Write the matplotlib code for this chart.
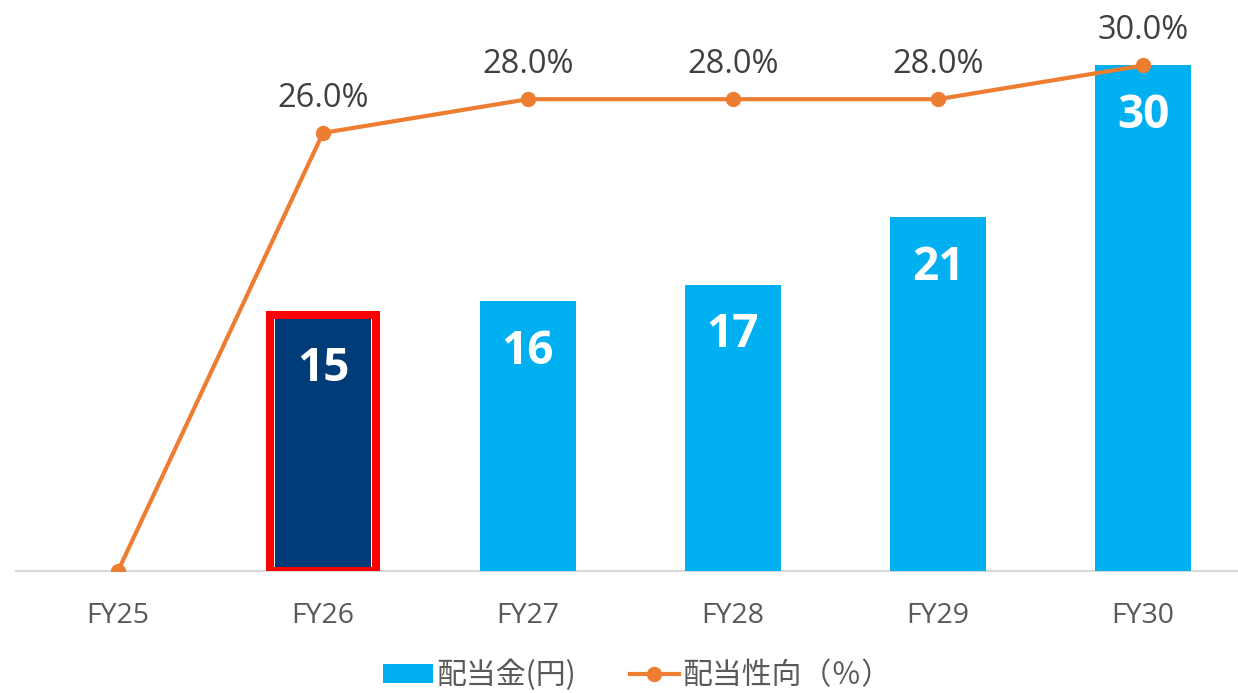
import matplotlib
matplotlib.use("Agg")
import matplotlib.pyplot as plt
from matplotlib.lines import Line2D
from matplotlib.patches import Patch

plt.rcParams['font.family'] = ['Open Sans', 'Noto Sans CJK JP', 'DejaVu Sans']

# data
years = ['FY25', 'FY26', 'FY27', 'FY28', 'FY29', 'FY30']
dividend = [0, 15, 16, 17, 21, 30]
payout = [0, 26.0, 28.0, 28.0, 28.0, 30.0]
highlight = 'FY26'

light_blue = '#00B0F0'
navy = '#003C78'
orange = '#ED7D31'

fig = plt.figure(figsize=(12.38, 6.93), dpi=100)
ax = fig.add_axes([15.5 / 1238, 122 / 693, 1230 / 1238, 571 / 693])
ax2 = ax.twinx()

x = list(range(len(years)))
ymax = 571 / 16.85

for i, (yr, v) in enumerate(zip(years, dividend)):
    if v == 0:
        continue
    col = navy if yr == highlight else light_blue
    ax.bar(i, v, width=0.465, color=col, zorder=2)
    if yr == highlight:
        ax.bar(i, v + 0.2, width=0.515, facecolor='none', edgecolor='#FF0000',
               linewidth=5.8, zorder=3)
    ax.annotate(str(v), (i, v), xytext=(0, -36), textcoords='offset points',
                ha='center', va='center', color='white', fontsize=33,
                fontweight='bold', zorder=4)

ax2.plot(x, payout, color=orange, linewidth=3, marker='o', markersize=10,
         zorder=5)
for i, p in enumerate(payout):
    if p == 0:
        continue
    ax2.annotate(f'{p:.1f}%', (i, p), xytext=(0, 25), textcoords='offset points',
                 ha='center', va='center', color='#404040', fontsize=23.5)

for a in (ax, ax2):
    a.set_ylim(0, ymax)
    a.set_xlim(-0.5, 5.5)
    for s in a.spines.values():
        s.set_visible(False)
    a.set_yticks([])
ax.axhline(0, color='#D9D9D9', linewidth=1.5, zorder=1, clip_on=False)
ax.set_xticks(x)
ax.set_xticklabels(years, fontsize=20.5, color='#595959')
ax.tick_params(axis='x', length=0, pad=22)
ax2.set_zorder(ax.get_zorder() + 1)
ax2.patch.set_visible(False)
ax.set_zorder(0)

handles = [Patch(facecolor=light_blue, edgecolor='none'),
           Line2D([0], [0], color=orange, linewidth=3, marker='o', markersize=10)]
fig.legend(handles, ['配当金(円)', '配当性向（％）'], loc='lower center',
           bbox_to_anchor=(0.515, -0.036), ncol=2, frameon=False,
           prop={'family': ['Noto Sans CJK JP', 'DejaVu Sans'], 'size': 21.5},
           labelcolor='#595959', handlelength=1.65, handleheight=0.6,
           handletextpad=0.12, columnspacing=1.8)

fig.savefig('out.png', dpi=100)
